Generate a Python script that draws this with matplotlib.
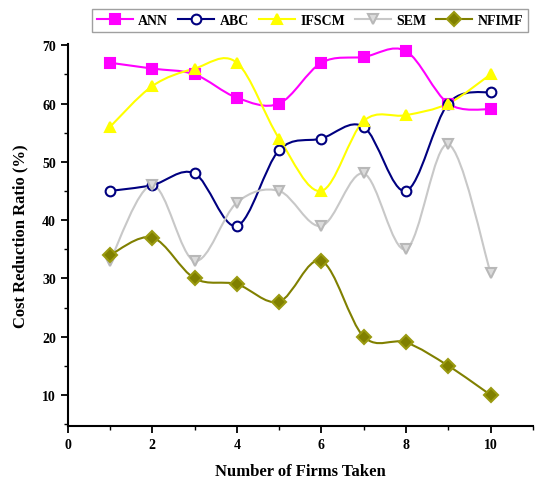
import matplotlib
matplotlib.use("Agg")
import matplotlib.pyplot as plt
import numpy as np
from matplotlib.path import Path
from matplotlib.patches import PathPatch
from matplotlib.ticker import MultipleLocator

firms = [1, 2, 3, 4, 5, 6, 7, 8, 9, 10]
ann = [67, 66, 65, 61, 60, 67, 68, 69, 60, 59]
abc = [45, 46, 48, 39, 52, 54, 56, 45, 60, 62]
ifscm = [56, 63, 66, 67, 54, 45, 57, 58, 60, 65]
sem = [33, 46, 33, 43, 45, 39, 48, 35, 53, 31]
nfimf = [34, 37, 30, 29, 26, 33, 20, 19, 15, 10]

plt.rcParams['font.family'] = ['Liberation Serif', 'DejaVu Serif']
plt.rcParams['font.weight'] = 'bold'


def smooth_path(x, y):
    # Catmull-Rom style spline drawn as cubic Bezier segments
    x = np.asarray(x, float)
    y = np.asarray(y, float)
    pts = np.column_stack([x, y])
    ext = np.vstack([pts[0], pts, pts[-1]])
    verts = [tuple(pts[0])]
    codes = [Path.MOVETO]
    for i in range(1, len(ext) - 2):
        p0, p1, p2, p3 = ext[i - 1], ext[i], ext[i + 1], ext[i + 2]
        c1 = p1 + (p2 - p0) / 6.0
        c2 = p2 - (p3 - p1) / 6.0
        verts += [tuple(c1), tuple(c2), tuple(p2)]
        codes += [Path.CURVE4] * 3
    return Path(verts, codes)


fig = plt.figure(figsize=(5.42, 4.85), dpi=100)
ax = fig.add_axes([0.125, 0.12, 0.858, 0.787])

series = [
    ('ANN', ann, '#FF00FF', 's', '#FF00FF', '#FF00FF'),
    ('ABC', abc, '#000080', 'o', 'white', '#000080'),
    ('IFSCM', ifscm, '#FFFF00', '^', '#FFFF00', '#FFFF00'),
    ('SEM', sem, '#C8C8C8', 'v', '#DCDCDC', '#B8B8B8'),
    ('NFIMF', nfimf, '#808000', 'D', '#808000', '#9A9A10'),
]

for name, vals, color, marker, face, edge in series:
    ax.add_patch(PathPatch(smooth_path(firms, vals), facecolor='none',
                           edgecolor=color, lw=1.5, zorder=2))
    ax.plot(firms, vals, linestyle='none', marker=marker, markersize=7,
            markerfacecolor=face, markeredgecolor=edge, markeredgewidth=1.5,
            zorder=3)
    ax.plot([], [], color=color, lw=1.5, marker=marker, markersize=7,
            markerfacecolor=face, markeredgecolor=edge, markeredgewidth=1.5,
            label=name)

ax.set_xlim(0, 11)
ax.set_ylim(4.7, 70.2)
ax.xaxis.set_minor_locator(MultipleLocator(1))
ax.yaxis.set_minor_locator(MultipleLocator(5))
ax.set_xticks([0, 2, 4, 6, 8, 10])
ax.set_yticks([10, 20, 30, 40, 50, 60, 70])

for side in ['top', 'right']:
    ax.spines[side].set_visible(False)
for side in ['left', 'bottom']:
    ax.spines[side].set_linewidth(1.5)

ax.tick_params(axis='both', which='major', direction='out', length=5,
               width=1.3, labelsize=10)
ax.tick_params(axis='both', which='minor', direction='out', length=3,
               width=1.0)
for lbl in ax.get_xticklabels() + ax.get_yticklabels():
    lbl.set_fontweight('bold')

ax.set_xlabel('Number of Firms Taken', fontsize=12, fontweight='bold',
              labelpad=9)
ax.set_ylabel('Cost Reduction Ratio (%)', fontsize=12, fontweight='bold',
              labelpad=10)

leg = fig.legend(loc='center', bbox_to_anchor=(0.572, 0.955), ncol=5,
                 frameon=True, fancybox=False, edgecolor='#888888',
                 handlelength=2.6, handletextpad=0.4,
                 columnspacing=0.7, borderpad=0.35,
                 prop={'weight': 'bold', 'size': 10})
leg.get_frame().set_linewidth(1.0)

fig.savefig('out.png', dpi=100)
